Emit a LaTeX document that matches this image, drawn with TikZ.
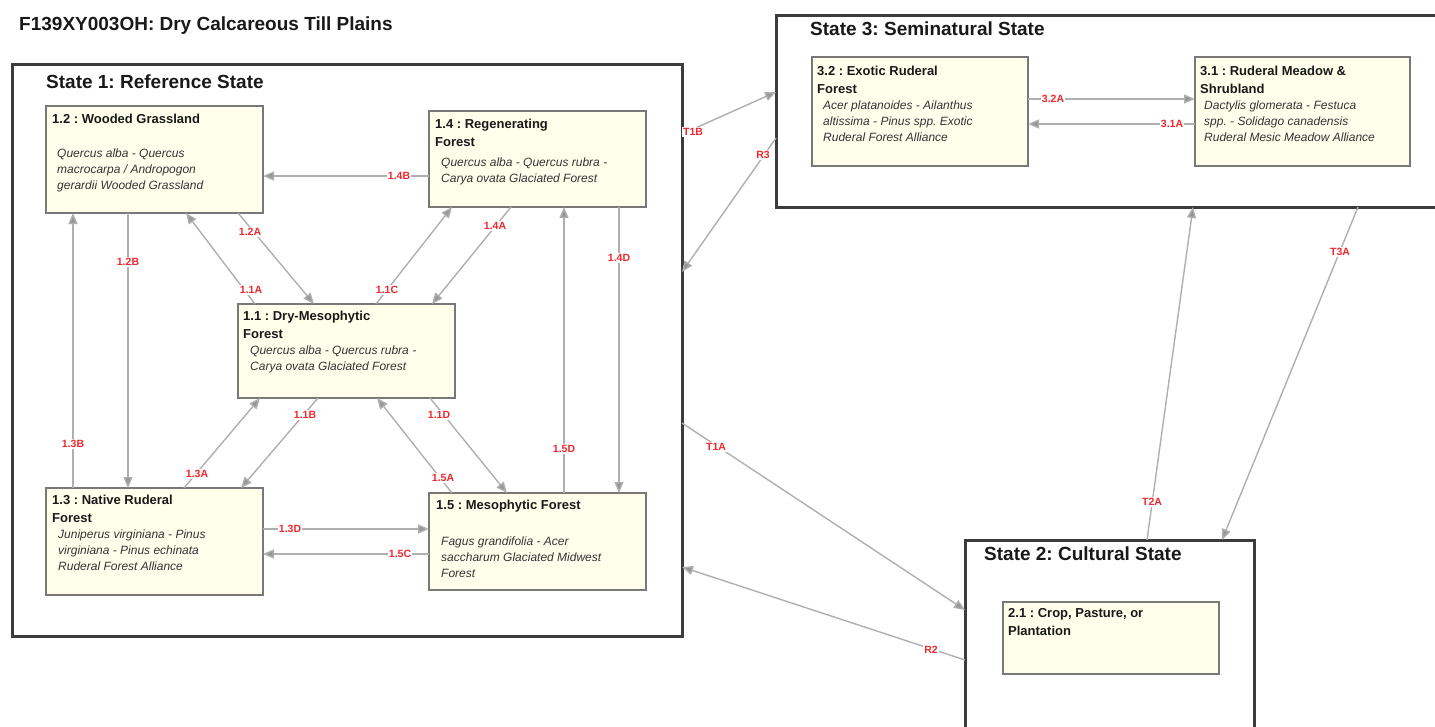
\documentclass[tikz,border=0pt]{standalone}
\usepackage{fontspec}
\setmainfont{Liberation Sans}
\usetikzlibrary{arrows.meta}
\definecolor{boxfill}{RGB}{255,255,236}
\definecolor{boxborder}{RGB}{120,120,120}
\definecolor{stateborder}{RGB}{60,60,60}
\definecolor{arrgray}{RGB}{175,175,175}
\definecolor{tipgray}{RGB}{150,150,150}
\definecolor{lblred}{RGB}{240,40,45}
\newcommand{\lstrut}{\rule{0pt}{10pt}}
\frenchspacing
\begin{document}
\begin{tikzpicture}[x=1pt,y=-1pt,
  state/.style={draw=stateborder, line width=3pt, anchor=north west, inner sep=0pt, outer sep=0pt},
  sbox/.style={draw=boxborder, line width=1.8pt, fill=boxfill, anchor=north west, inner sep=0pt, outer sep=0pt},
  ttl/.style={anchor=north west, inner sep=0pt, align=left, font=\fontsize{13}{18}\selectfont\bfseries\frenchspacing, text=black!90},
  spc/.style={anchor=north west, inner sep=0pt, align=left, font=\fontsize{12}{16}\selectfont\itshape\frenchspacing, text=black!80},
  lbl/.style={font=\fontsize{10.5}{12}\selectfont\bfseries, text=lblred, fill=white, inner sep=1pt},
  arr/.style={draw=arrgray, line width=1.4pt, -{Triangle[length=11pt,width=9pt,fill=tipgray]}},
  head/.style={anchor=base west, inner sep=0pt, font=\fontsize{19}{22}\selectfont\bfseries\frenchspacing, text=black!90}]
\useasboundingbox (0,0) rectangle (1435,726);

% title
\node[head] (title) at (19,30) {F139XY003OH: Dry Calcareous Till Plains};

% state boxes
\node[state, minimum width=670pt, minimum height=572pt] (s1) at (12,64) {};
\node[state, minimum width=670pt, minimum height=192pt] (s3) at (776,15) {};
\node[state, minimum width=289pt, minimum height=200pt] (s2) at (965,540) {};
\node[head] (s1t) at (46,88) {State 1: Reference State};
\node[head] (s3t) at (810,35) {State 3: Seminatural State};
\node[head] (s2t) at (984,560) {State 2: Cultural State};

% community boxes
\node[sbox, minimum width=217pt, minimum height=107pt] (b12) at (46,106) {};
\node[sbox, minimum width=217pt, minimum height=96pt] (b14) at (429,111) {};
\node[sbox, minimum width=217pt, minimum height=94pt] (b11) at (238,304) {};
\node[sbox, minimum width=217pt, minimum height=107pt] (b13) at (46,488) {};
\node[sbox, minimum width=217pt, minimum height=97pt] (b15) at (429,493) {};
\node[sbox, minimum width=216pt, minimum height=109pt] (b32) at (812,57) {};
\node[sbox, minimum width=215pt, minimum height=109pt] (b31) at (1195,57) {};
\node[sbox, minimum width=216pt, minimum height=72pt] (b21) at (1003,602) {};

% box texts (anchor y = first baseline - 10)
\node[ttl] (b12t) at (52,113) {\lstrut 1.2 : Wooded Grassland};
\node[spc] (b12s) at (57,147) {\lstrut Quercus alba - Quercus\\macrocarpa / Andropogon\\gerardii Wooded Grassland};
\node[ttl] (b14t) at (435,118) {\lstrut 1.4 : Regenerating\\Forest};
\node[spc] (b14s) at (441,156) {\lstrut Quercus alba - Quercus rubra -\\Carya ovata Glaciated Forest};
\node[ttl] (b11t) at (243,310) {\lstrut 1.1 : Dry-Mesophytic\\Forest};
\node[spc] (b11s) at (250,344) {\lstrut Quercus alba - Quercus rubra -\\Carya ovata Glaciated Forest};
\node[ttl] (b13t) at (52,494) {\lstrut 1.3 : Native Ruderal\\Forest};
\node[spc] (b13s) at (58,528) {\lstrut Juniperus virginiana - Pinus\\virginiana - Pinus echinata\\Ruderal Forest Alliance};
\node[ttl] (b15t) at (436,499) {\lstrut 1.5 : Mesophytic Forest};
\node[spc] (b15s) at (441,535) {\lstrut Fagus grandifolia - Acer\\saccharum Glaciated Midwest\\Forest};
\node[ttl] (b32t) at (817,65) {\lstrut 3.2 : Exotic Ruderal\\Forest};
\node[spc] (b32s) at (823,99) {\lstrut Acer platanoides - Ailanthus\\altissima - Pinus spp. Exotic\\Ruderal Forest Alliance};
\node[ttl] (b31t) at (1200,65) {\lstrut 3.1 : Ruderal Meadow \&\\Shrubland};
\node[spc] (b31s) at (1204,99) {\lstrut Dactylis glomerata - Festuca\\spp. - Solidago canadensis\\Ruderal Mesic Meadow Alliance};
\node[ttl] (b21t) at (1008,607) {\lstrut 2.1 : Crop, Pasture, or\\Plantation};

% connectors
\draw[arr] (b14.west |- 0,176) -- (b12.east |- 0,176);
\draw[arr] (b12.south -| 238,0) -- (b11.north -| 314,0);
\draw[arr] (b11.north -| 255,0) -- (b12.south -| 186,0);
\draw[arr] (b11.north -| 376,0) -- (b14.south -| 452,0);
\draw[arr] (b14.south -| 511,0) -- (b11.north -| 432,0);
\draw[arr] (b14.south -| 619,0) -- (b15.north -| 619,0);
\draw[arr] (b15.north -| 564,0) -- (b14.south -| 564,0);
\draw[arr] (b12.south -| 128,0) -- (b13.north -| 128,0);
\draw[arr] (b13.north -| 73,0) -- (b12.south -| 73,0);
\draw[arr] (b11.south -| 318,0) -- (b13.north -| 241,0);
\draw[arr] (b13.north -| 184,0) -- (b11.south -| 260,0);
\draw[arr] (b11.south -| 430,0) -- (b15.north -| 507,0);
\draw[arr] (b15.north -| 452,0) -- (b11.south -| 377,0);
\draw[arr] (b13.east |- 0,529) -- (b15.west |- 0,529);
\draw[arr] (b15.west |- 0,554) -- (b13.east |- 0,554);
\draw[arr] (b32.east |- 0,99) -- (b31.west |- 0,99);
\draw[arr] (b31.west |- 0,124) -- (b32.east |- 0,124);
\draw[arr] (s1.east |- 0,134) -- (s3.west |- 0,92);
\draw[arr] (s3.west |- 0,138) -- (s1.east |- 0,272);
\draw[arr] (s1.east |- 0,423) -- (s2.west |- 0,610);
\draw[arr] (s2.west |- 0,660) -- (s1.east |- 0,567);
\draw[arr] (s2.north -| 1147,0) -- (s3.south -| 1193,0);
\draw[arr] (s3.south -| 1358,0) -- (s2.north -| 1222,0);

% labels
\node[lbl] (l14B) at (399,176) {1.4B};
\node[lbl] (l12A) at (250,232) {1.2A};
\node[lbl] (l11A) at (251,290) {1.1A};
\node[lbl] (l11C) at (387,290) {1.1C};
\node[lbl] (l14A) at (495,226) {1.4A};
\node[lbl] (l14D) at (619,258) {1.4D};
\node[lbl] (l15D) at (564,449) {1.5D};
\node[lbl] (l12B) at (128,262) {1.2B};
\node[lbl] (l13B) at (73,444) {1.3B};
\node[lbl] (l11B) at (305,415) {1.1B};
\node[lbl] (l13A) at (197,474) {1.3A};
\node[lbl] (l11D) at (439,415) {1.1D};
\node[lbl] (l15A) at (443,478) {1.5A};
\node[lbl] (l13D) at (290,529) {1.3D};
\node[lbl] (l15C) at (400,554) {1.5C};
\node[lbl] (l32A) at (1053,99) {3.2A};
\node[lbl] (l31A) at (1172,124) {3.1A};
\node[lbl] (lT1B) at (693,132) {T1B};
\node[lbl] (lR3) at (763,155) {R3};
\node[lbl] (lT1A) at (716,447) {T1A};
\node[lbl] (lR2) at (931,650) {R2};
\node[lbl] (lT2A) at (1152,502) {T2A};
\node[lbl] (lT3A) at (1340,252) {T3A};
\end{tikzpicture}
\end{document}
